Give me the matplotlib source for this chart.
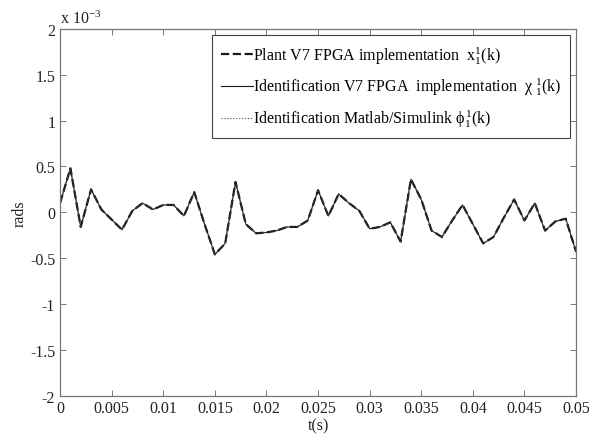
import matplotlib
matplotlib.use("Agg")
import matplotlib.pyplot as plt
import numpy as np

# sample times (s), one every 1 ms
t = np.arange(0, 51) * 0.001

# values, in units of 1e-3 rad
plant_x = [
    0.10, 0.48, -0.16, 0.25, 0.03, -0.08, -0.19, 0.015, 0.10, 0.03,
    0.08, 0.08, -0.04, 0.22, -0.13, -0.46, -0.34, 0.33, -0.13, -0.23,
    -0.22, -0.20, -0.16, -0.16, -0.09, 0.24, -0.04, 0.20, 0.10, 0.015,
    -0.18, -0.16, -0.11, -0.32, 0.36, 0.14, -0.20, -0.27, -0.09, 0.08,
    -0.13, -0.34, -0.27, -0.06, 0.14, -0.09, 0.10, -0.20, -0.10, -0.07,
    -0.43,
]
# both identification traces sit on top of the plant trace
ident_fpga = list(plant_x)
ident_simulink = list(plant_x)

x_ticks = [0, 0.005, 0.01, 0.015, 0.02, 0.025, 0.03, 0.035, 0.04, 0.045, 0.05]
x_tick_labels = ["0", "0.005", "0.01", "0.015", "0.02", "0.025", "0.03",
                 "0.035", "0.04", "0.045", "0.05"]
y_ticks = [-2, -1.5, -1, -0.5, 0, 0.5, 1, 1.5, 2]
y_tick_labels = ["-2", "-1.5", "-1", "-0.5", "0", "0.5", "1", "1.5", "2"]

labels = [
    r"Plant V7 FPGA implementation  x$^1_1$(k)",
    r"Identification V7 FPGA  implementation  $\chi$ $^1_1$(k)",
    r"Identification Matlab/Simulink $\phi^1_1$(k)",
]

plt.rcParams["font.family"] = ["Liberation Serif", "DejaVu Serif"]
plt.rcParams["mathtext.fontset"] = "custom"
plt.rcParams["mathtext.rm"] = "Liberation Serif"
plt.rcParams["mathtext.it"] = "Liberation Serif"
plt.rcParams["axes.unicode_minus"] = False
plt.rcParams["font.size"] = 11.5

fig = plt.figure(figsize=(5.89, 4.35), dpi=100)
ax = fig.add_axes([0.102, 0.0885, 0.876, 0.8425])

ax.plot(t, plant_x, color="#1a1a1a", linestyle="--", linewidth=1.6, label=labels[0])
ax.plot(t, ident_fpga, color="#1a1a1a", linestyle="-", linewidth=0.8, label=labels[1])
ax.plot(t, ident_simulink, color="#444444", linestyle=":", linewidth=0.8, label=labels[2])

ax.set_xlim(0, 0.05)
ax.set_ylim(-2, 2)
ax.set_xticks(x_ticks)
ax.set_xticklabels(x_tick_labels)
ax.set_yticks(y_ticks)
ax.set_yticklabels(y_tick_labels)
ax.tick_params(direction="in", top=True, right=True, length=4, width=0.7, colors="#777777",
               labelcolor="#222222")
for spine in ax.spines.values():
    spine.set_color("#777777")
    spine.set_linewidth(0.9)

ax.set_xlabel("t(s)", labelpad=1, color="#222222")
ax.set_ylabel("rads", labelpad=2, color="#222222")
ax.text(0.0, 1.005, r"x 10$^{-3}$", transform=ax.transAxes, ha="left", va="bottom",
        color="#222222")

leg = ax.legend(loc="upper right", handlelength=2.0, handletextpad=0.0,
                borderpad=0.55, labelspacing=0.65, fancybox=False, framealpha=1,
                borderaxespad=0.4)
leg.get_frame().set_edgecolor("#444444")
leg.get_frame().set_linewidth(0.8)

fig.savefig("out.png", dpi=100)
